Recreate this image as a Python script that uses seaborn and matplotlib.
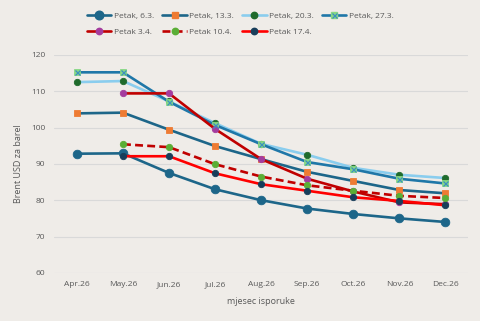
import numpy as np
import pandas as pd
import matplotlib
matplotlib.use("Agg")
import matplotlib.pyplot as plt
from matplotlib.lines import Line2D
from matplotlib.legend_handler import HandlerTuple
import seaborn as sns

months = ["Apr.26", "May.26", "Jun.26", "Jul.26", "Aug.26", "Sep.26", "Oct.26", "Nov.26", "Dec.26"]
labels = ["Petak, 6.3.", "Petak, 13.3.", "Petak, 20.3.", "Petak, 27.3.",
          "Petak 3.4.", "Petak 10.4.", "Petak 17.4."]
s_0603 = [92.8, 92.9, 87.5, 83.0, 80.0, 77.7, 76.2, 75.0, 74.0]
s_1303 = [103.9, 104.1, 99.4, 94.9, 91.3, 87.8, 85.3, 82.8, 81.9]
s_2003 = [112.5, 112.8, 107.2, 101.2, 95.5, 92.5, 88.9, 87.0, 86.1]
s_2703 = [115.2, 115.2, 107.1, 100.7, 95.4, 90.5, 88.5, 85.9, 84.6]
s_0304 = [np.nan, 109.4, 109.4, 99.6, 91.3, 85.9, 82.4, 79.4, 78.9]
s_1004 = [np.nan, 95.4, 94.6, 89.9, 86.5, 84.1, 82.6, 81.2, 80.6]
s_1704 = [np.nan, 92.1, 92.1, 87.4, 84.4, 82.6, 80.8, 79.8, 78.6]
series = [s_0603, s_1303, s_2003, s_2703, s_0304, s_1004, s_1704]

styles = [
    dict(color="#1D6689", ls="-", marker="o", mfc="#1D6689", mec="#1D6689", ms=6.2),
    dict(color="#1D6689", ls="-", marker="s", mfc="#EE7B33", mec="#EE7B33", ms=4.6),
    dict(color="#8ACDEE", ls="-", marker="o", mfc="#1F6B2C", mec="#1F6B2C", ms=4.6),
    dict(color="#1F77A8", ls="-", marker="s", mfc="#86D884", mec="#86D884", ms=4.6),
    dict(color="#C00000", ls="-", marker="o", mfc="#A43C9E", mec="#A43C9E", ms=4.6),
    dict(color="#C00000", ls=(0, (3, 1.6)), marker="o", mfc="#5AAE35", mec="#5AAE35", ms=4.6),
    dict(color="#FF0000", ls="-", marker="o", mfc="#183E5A", mec="#183E5A", ms=4.6),
]

bg = "#EFECE8"
txt = "#595959"
sns.set_theme(style="white")
plt.rcParams["font.family"] = ["Open Sans", "DejaVu Sans"]

fig = plt.figure(figsize=(4.81, 3.21), dpi=100, facecolor=bg)
ax = fig.add_axes([0.112, 0.150, 0.862, 0.679])
ax.set_facecolor(bg)

x = np.arange(len(months))
handles = []
for lab, vals, st in zip(labels, series, styles):
    df = pd.DataFrame({"x": x, "y": vals}).dropna()
    sns.lineplot(data=df, x="x", y="y", ax=ax, color=st["color"], linestyle=st["ls"],
                 linewidth=1.9, marker=st["marker"], markersize=st["ms"],
                 markerfacecolor=st["mfc"], markeredgecolor=st["mec"], markeredgewidth=0.6,
                 legend=False, zorder=3)
    h = Line2D([], [], color=st["color"], linestyle=st["ls"], linewidth=1.9,
               marker=st["marker"], markersize=st["ms"], markerfacecolor=st["mfc"],
               markeredgecolor=st["mec"])
    if lab == "Petak, 27.3.":
        ax.plot(df["x"], df["y"], linestyle="none", marker="x", markersize=3.6,
                color="#3C8FC0", markeredgewidth=0.9, zorder=4)
        hx = Line2D([], [], linestyle="none", marker="x", markersize=3.6,
                    color="#3C8FC0", markeredgewidth=0.9)
        h = (h, hx)
    handles.append(h)

ax.set_xlim(-0.5, len(months) - 0.5)
ax.set_ylim(60, 120)
ax.set_yticks(np.arange(60, 121, 10))
ax.set_xticks(x)
ax.set_xticklabels(months)
ax.tick_params(axis="both", labelsize=6, colors=txt, length=0, pad=6)
ax.grid(axis="y", color="#D9D9D9", linewidth=0.8)
ax.set_axisbelow(True)
for s in ax.spines.values():
    s.set_visible(False)
ax.set_xlabel("mjesec isporuke", fontsize=6.5, color=txt, labelpad=6)
ax.set_ylabel("Brent USD za barel", fontsize=6.5, color=txt, labelpad=6)

order = [0, 4, 1, 5, 2, 6, 3]
fig.legend([handles[i] for i in order], [labels[i] for i in order], ncol=4,
           loc="center", bbox_to_anchor=(0.5, 0.925), frameon=False,
           fontsize=6, labelcolor=txt, handlelength=2.9, handletextpad=0.3,
           columnspacing=1.0, labelspacing=1.05,
           handler_map={tuple: HandlerTuple(ndivide=1)})

fig.savefig("out.png", dpi=100, facecolor=bg)
